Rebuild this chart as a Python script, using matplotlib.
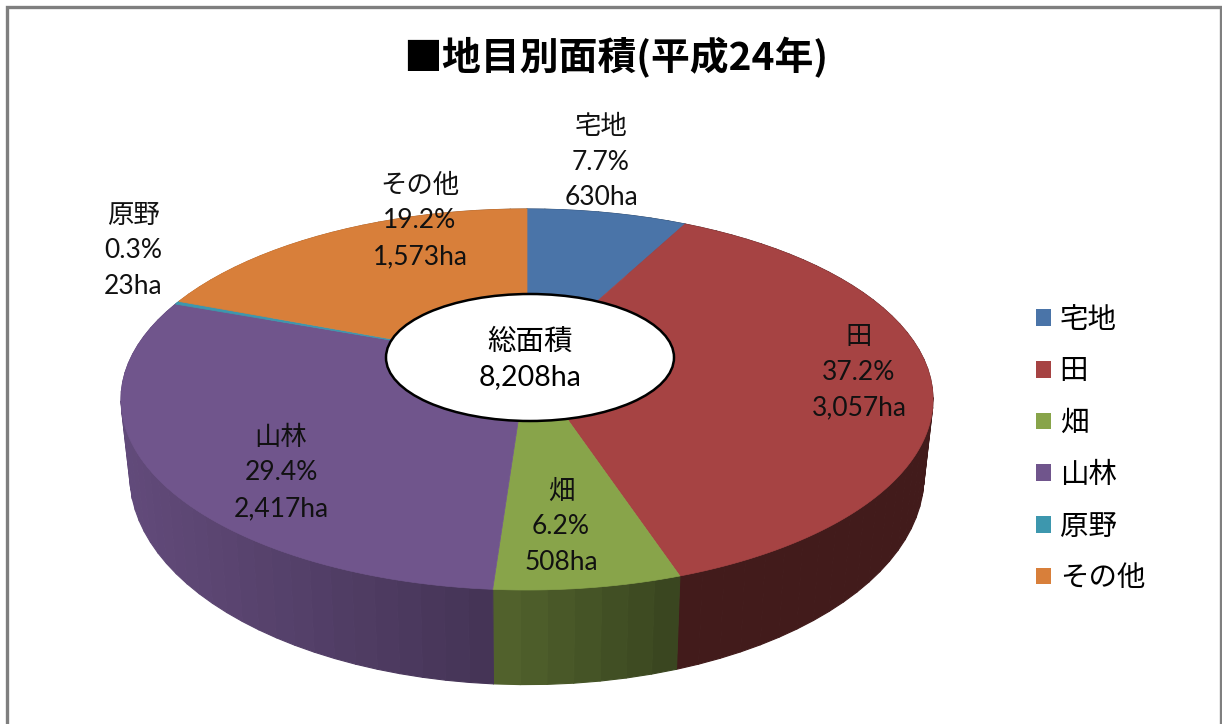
import numpy as np, matplotlib
matplotlib.use("Agg")
import matplotlib.pyplot as plt
import matplotlib.patches as mpatches
from matplotlib.collections import PolyCollection

plt.rcParams['font.family'] = ['Lato', 'Noto Sans CJK JP', 'DejaVu Sans']

names   = ["宅地", "田", "畑", "山林", "原野", "その他"]
areas   = [630, 3057, 508, 2417, 23, 1573]
pcts    = ["7.7%", "37.2%", "6.2%", "29.4%", "0.3%", "19.2%"]
colors  = ["#4a74a8", "#a64343", "#88a44a", "#70558c", "#3d97ae", "#d87f3a"]
label_x = [601, 859, 561, 281, 133, 420]
label_y = [162, 372, 527, 473, 251, 221]

CX = 527

def rim(theta, y0, A, B, k=0.1916):
    # perspective circle -> screen, angle clockwise from the top
    u, v = np.sin(theta), np.cos(theta)
    d = 1 + k * v
    return CX + A * u / d, y0 - B * v / d

def top(theta):
    return rim(theta, 363, 398.5, 183.5)

def bottom(theta):
    return rim(theta, 436, 389.7, 201)

def shade(col, x):
    f = np.interp(x, [130, 490, 675, 690], [0.87, 0.61, 0.42, 0.40])
    return tuple(c * f for c in matplotlib.colors.to_rgb(col))

fig = plt.figure(figsize=(12.22, 7.24), dpi=100)
ax = fig.add_axes([0, 0, 1, 1])
ax.set_xlim(0, 1222)
ax.set_ylim(724, 0)
ax.axis("off")

# frame
ax.plot([7, 7, 1221, 1221], [724, 7, 7, 724], color="#7f7f7f", lw=2.4,
        solid_joinstyle="miter", zorder=1)

fracs = np.array(areas) / sum(areas)
edges = np.concatenate([[0], np.cumsum(fracs)]) * 2 * np.pi

# side wall, cut in strips for the gradient
for a, b, col in zip(edges[:-1], edges[1:], colors):
    n = max(2, int((b - a) / 0.05))
    th = np.linspace(a, b, n + 1)
    tx, ty = top(th)
    bx, by = bottom(th)
    polys, cols = [], []
    for i in range(n):
        polys.append([(tx[i], ty[i]), (tx[i + 1], ty[i + 1]),
                      (bx[i + 1], by[i + 1]), (bx[i], by[i])])
        cols.append(shade(col, (tx[i] + tx[i + 1]) / 2))
    ax.add_collection(PolyCollection(polys, facecolors=cols, edgecolors=cols,
                                     linewidths=0.8, zorder=2))

# top faces
for a, b, col in zip(edges[:-1], edges[1:], colors):
    th = np.linspace(a, b, max(3, int((b - a) / 0.01)))
    x, y = top(th)
    pts = np.column_stack([np.r_[CX, x], np.r_[363, y]])
    ax.add_patch(mpatches.Polygon(pts, closed=True, facecolor=col, edgecolor=col,
                                  lw=0.5, zorder=3))

# centre callout
ax.add_patch(mpatches.Ellipse((530, 357.5), 288, 127, facecolor="white",
                              edgecolor="black", lw=1.8, zorder=4))
ax.text(530, 359, "総面積\n8,208ha", ha="center", va="center", fontsize=20.5,
        color="black", linespacing=1.45, zorder=5)

# data labels
for name, pct, area, x, y in zip(names, pcts, areas, label_x, label_y):
    ax.text(x, y, f"{name}\n{pct}\n{area:,}ha", ha="center", va="center",
            fontsize=19, color="#111111", linespacing=1.52, zorder=5)

ax.text(616, 58, "■地目別面積(平成24年)", ha="center", va="center", fontsize=28,
        fontweight="bold", color="black",
        family=['Noto Sans CJK JP', 'DejaVu Sans'])

handles = [mpatches.Patch(facecolor=c, edgecolor="none") for c in colors]
ax.legend(handles, names, loc="center left", bbox_to_anchor=(1036, 449),
          bbox_transform=ax.transData, frameon=False, fontsize=20.5,
          handlelength=0.53, handleheight=0.53, handletextpad=0.3,
          labelspacing=0.9, borderpad=0, borderaxespad=0)

fig.savefig("out.png", dpi=100, facecolor="white")
